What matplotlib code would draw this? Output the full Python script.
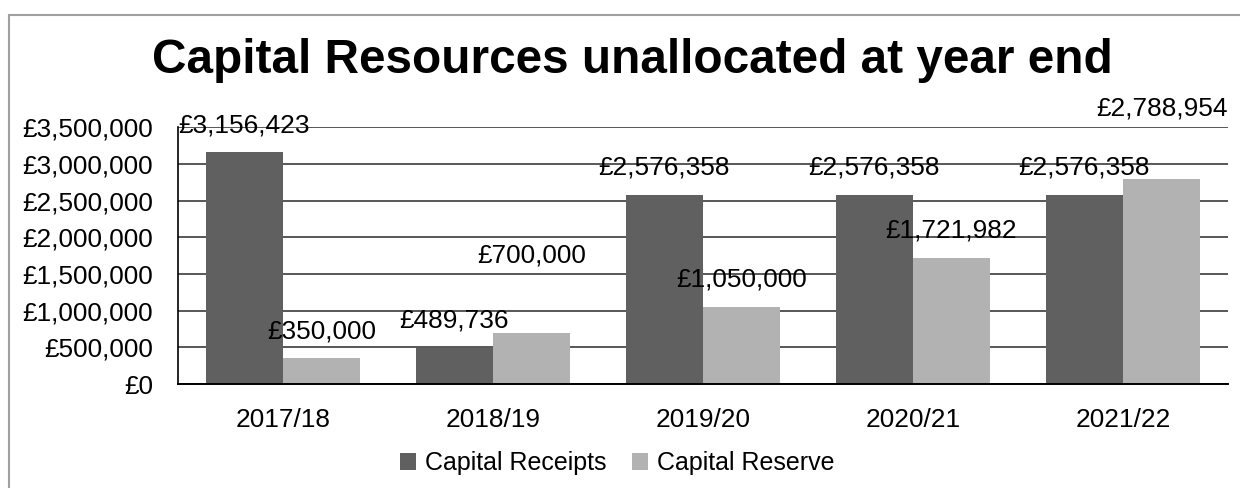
import numpy as np
import matplotlib.pyplot as plt
from matplotlib.patches import Rectangle
from matplotlib.ticker import FuncFormatter, MultipleLocator

plt.rcParams['font.family'] = ['Liberation Sans', 'DejaVu Sans']

years = ['2017/18', '2018/19', '2019/20', '2020/21', '2021/22']
capital_receipts = [3156423, 489736, 2576358, 2576358, 2576358]
capital_reserve = [350000, 700000, 1050000, 1721982, 2788954]

dark = '#606060'
light = '#b2b2b2'

fig = plt.figure(figsize=(12.4, 4.88), dpi=100)
ax = fig.add_axes([178 / 1240, 1 - 384 / 488, 1050 / 1240, (384 - 127.3) / 488])

x = np.arange(len(years))
w = 0.367
ax.bar(x - w / 2, capital_receipts, w, color=dark, label='Capital Receipts', zorder=2)
ax.bar(x + w / 2, capital_reserve, w, color=light, label='Capital Reserve', zorder=2)

ax.set_xlim(-0.5, len(years) - 0.5)
ax.set_ylim(0, 3500000)
ax.yaxis.set_major_locator(MultipleLocator(500000))
ax.yaxis.set_major_formatter(FuncFormatter(lambda v, p: f'£{v:,.0f}'))
ax.set_xticks(x)
ax.set_xticklabels(years)
ax.tick_params(axis='both', length=0, labelsize=18.9)
ax.tick_params(axis='y', pad=18)
ax.tick_params(axis='x', pad=17)
ax.grid(axis='y', color='#2a2a2a', linewidth=1.1, zorder=1)
for s in ['top', 'right']:
    ax.spines[s].set_visible(False)
ax.spines['left'].set_linewidth(1.2)
ax.spines['bottom'].set_linewidth(1.4)

# data labels, a couple of them pushed higher like in the original
lift = {(1, 1): 50.8, (4, 1): 45.7}
for j, vals in enumerate([capital_receipts, capital_reserve]):
    off = -w / 2 if j == 0 else w / 2
    for i, v in enumerate(vals):
        dy = lift.get((i, j), 14.5)
        ax.annotate(f'£{v:,.0f}', (x[i] + off, v), xytext=(0, dy),
                    textcoords='offset points', ha='center', va='baseline',
                    fontsize=18.9, zorder=3, annotation_clip=False)

fig.text(632 / 1240, 1 - 73 / 488, 'Capital Resources unallocated at year end',
         ha='center', va='baseline', fontsize=34.4, fontweight='bold')

fig.legend(loc='center', bbox_to_anchor=(617 / 1240, 1 - 463 / 488), ncol=2,
           frameon=False, fontsize=18, handlelength=0.65, handleheight=0.65,
           handletextpad=0.36, columnspacing=1.0, borderaxespad=0)

# chart frame (only top and left edges fall inside the image)
fig.patches.append(Rectangle((9 / 1240, -0.1), 1.2, 1 - 15 / 488 + 0.1,
                             transform=fig.transFigure, fill=False,
                             edgecolor='#a0a0a0', linewidth=1.5))

fig.savefig('out.png', dpi=100)
